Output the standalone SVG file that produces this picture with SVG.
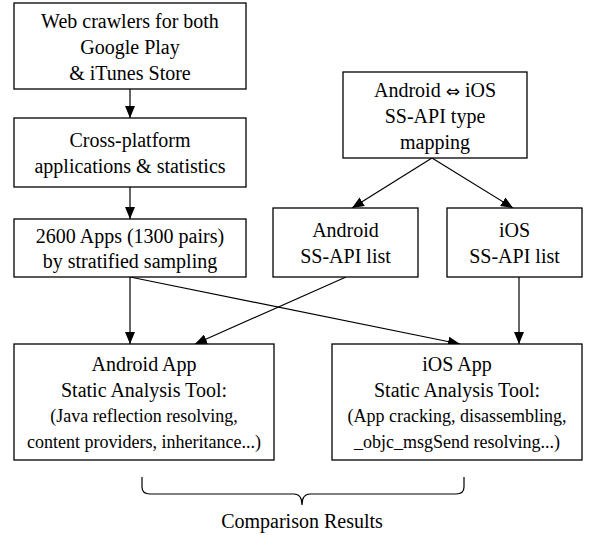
<svg xmlns="http://www.w3.org/2000/svg" width="592" height="535" viewBox="0 0 592 535">
<style>
.box{fill:#fff;stroke:#000;stroke-width:1.3}
text{font-size:20px;fill:#000;text-anchor:middle}
.sm{font-size:18px}
.con{stroke:#000;stroke-width:1.2;fill:none}
</style>
<defs>
<marker id="ah" viewBox="0 0 12 10" refX="12" refY="5" markerWidth="12" markerHeight="10" markerUnits="userSpaceOnUse" orient="auto">
<path d="M0,0 L12,5 L0,10 Z" fill="#000"/>
</marker>
</defs>
<rect width="592" height="535" fill="#fff"/>
<g id="connectors">
<line class="con" x1="130" y1="89" x2="130" y2="118" marker-end="url(#ah)"/>
<line class="con" x1="130" y1="187" x2="130" y2="219" marker-end="url(#ah)"/>
<line class="con" x1="130" y1="277" x2="130" y2="344" marker-end="url(#ah)"/>
<line class="con" x1="130" y1="277" x2="460" y2="344" marker-end="url(#ah)"/>
<line class="con" x1="346" y1="277" x2="195" y2="344" marker-end="url(#ah)"/>
<line class="con" x1="432" y1="158" x2="352" y2="208" marker-end="url(#ah)"/>
<line class="con" x1="432" y1="158" x2="513" y2="208" marker-end="url(#ah)"/>
<line class="con" x1="519" y1="277" x2="519" y2="344" marker-end="url(#ah)"/>
</g>
<g font-family="'Liberation Serif', 'Times New Roman', 'DejaVu Serif', serif">
<g id="crawlers">
<rect class="box" x="14" y="3" width="232" height="86"/>
<text x="130" y="28">Web crawlers for both</text>
<text x="130" y="54">Google Play</text>
<text x="130" y="80">&amp; iTunes Store</text>
</g>
<g id="crossplatform">
<rect class="box" x="14" y="118" width="232" height="69"/>
<text x="130" y="147">Cross-platform</text>
<text x="130" y="173">applications &amp; statistics</text>
</g>
<g id="apps">
<rect class="box" x="14" y="219" width="232" height="58"/>
<text x="130" y="243">2600 Apps (1300 pairs)</text>
<text x="130" y="268">by stratified sampling</text>
</g>
<g id="mapping">
<rect class="box" x="343" y="72" width="184" height="86"/>
<text x="435" y="97">Android <tspan font-family="'DejaVu Sans', sans-serif" font-size="17">⇔</tspan> iOS</text>
<text x="435" y="123">SS-API type</text>
<text x="435" y="149">mapping</text>
</g>
<g id="android-list">
<rect class="box" x="273" y="208" width="145" height="69"/>
<text x="345.5" y="237">Android</text>
<text x="345.5" y="263">SS-API list</text>
</g>
<g id="ios-list">
<rect class="box" x="447" y="208" width="135" height="69"/>
<text x="514.5" y="237">iOS</text>
<text x="514.5" y="263">SS-API list</text>
</g>
<g id="android-tool">
<rect class="box" x="14" y="344" width="260" height="116"/>
<text x="144" y="371">Android App</text>
<text x="144" y="397">Static Analysis Tool:</text>
<text class="sm" x="144" y="422">(Java reflection resolving,</text>
<text class="sm" x="144" y="448">content providers, inheritance...)</text>
</g>
<g id="ios-tool">
<rect class="box" x="332" y="344" width="250" height="116"/>
<text x="457" y="371">iOS App</text>
<text x="457" y="397">Static Analysis Tool:</text>
<text class="sm" x="457" y="422">(App cracking, disassembling,</text>
<text class="sm" x="457" y="448">_objc_msgSend resolving...)</text>
</g>
<g id="comparison">
<path class="con" d="M142,477 V487 Q142,494 150,494 H294 Q302,494 302,505 Q302,494 310,494 H456 Q464,494 464,487 V477"/>
<text x="302" y="528">Comparison Results</text>
</g>
</g>
</svg>
